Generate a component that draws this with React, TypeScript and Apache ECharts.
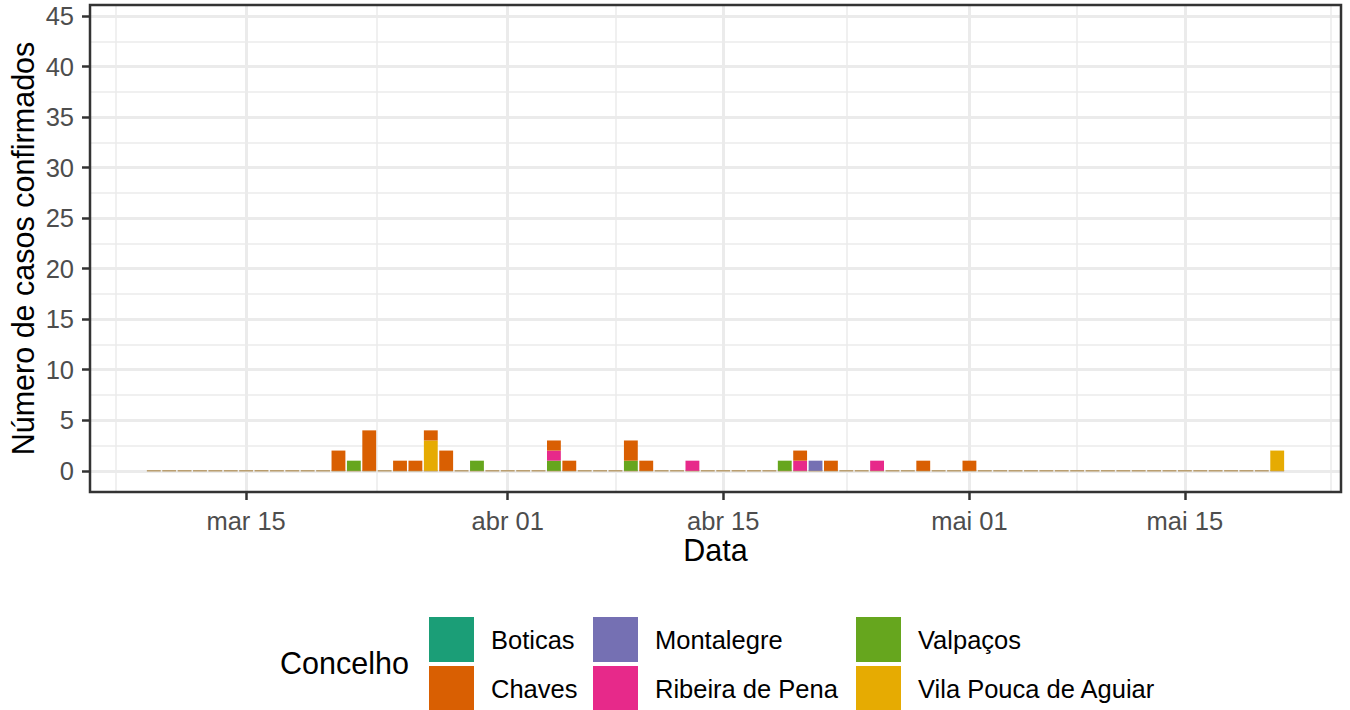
import React, { useEffect, useRef } from "react";
import * as echarts from "echarts";

// ---- data ----
const counties = ["Boticas", "Chaves", "Montalegre", "Ribeira de Pena", "Valpaços", "Vila Pouca de Aguiar"];
const countyColors = ["#1B9E77", "#D95F02", "#7570B3", "#E7298A", "#66A61E", "#E6AB02"];

const dates = [
  "2020-03-21", "2020-03-22", "2020-03-23", "2020-03-25", "2020-03-26", "2020-03-27", "2020-03-28",
  "2020-03-30", "2020-04-04", "2020-04-05", "2020-04-09", "2020-04-10", "2020-04-13", "2020-04-19",
  "2020-04-20", "2020-04-21", "2020-04-22", "2020-04-25", "2020-04-28", "2020-05-01", "2020-05-21",
];
const boticas = [0, 0, 0, 0, 0, 0, 0, 0, 0, 0, 0, 0, 0, 0, 0, 0, 0, 0, 0, 0, 0];
const chaves = [2, 0, 4, 1, 1, 1, 2, 0, 1, 1, 2, 1, 0, 0, 1, 0, 1, 0, 1, 1, 0];
const montalegre = [0, 0, 0, 0, 0, 0, 0, 0, 0, 0, 0, 0, 0, 0, 0, 1, 0, 0, 0, 0, 0];
const ribeiraDePena = [0, 0, 0, 0, 0, 0, 0, 0, 1, 0, 0, 0, 1, 0, 1, 0, 0, 1, 0, 0, 0];
const valpacos = [0, 1, 0, 0, 0, 0, 0, 1, 1, 0, 1, 0, 0, 1, 0, 0, 0, 0, 0, 0, 0];
const vilaPouca = [0, 0, 0, 0, 0, 3, 0, 0, 0, 0, 0, 0, 0, 0, 0, 0, 0, 0, 0, 0, 2];
const countyValues = [boticas, chaves, montalegre, ribeiraDePena, valpacos, vilaPouca];

const firstDate = "2020-03-09";
const lastDate = "2020-05-21";

const xTickDates = ["2020-03-15", "2020-04-01", "2020-04-15", "2020-05-01", "2020-05-15"];
const xTickLabels = ["mar 15", "abr 01", "abr 15", "mai 01", "mai 15"];
const xMinorDates = ["2020-03-06T12:00:00Z", "2020-03-23T12:00:00Z", "2020-04-08T00:00:00Z", "2020-04-23T00:00:00Z", "2020-05-08T00:00:00Z", "2020-05-24T12:00:00Z"];
const yTicks = [0, 5, 10, 15, 20, 25, 30, 35, 40, 45];
const yMinor = [2.5, 7.5, 12.5, 17.5, 22.5, 27.5, 32.5, 37.5, 42.5];

// ---- helpers ----
const DAY = 86400000;
const ts = (s: string) => Date.parse(s.length === 10 ? s + "T00:00:00Z" : s);

const FONT = "'Liberation Sans', Arial, Helvetica, sans-serif";
const SMALL = 25.5;
const BIG = 30.5;

export default function App() {
  const ref = useRef<HTMLDivElement>(null);

  useEffect(() => {
    if (!ref.current) return;
    const chart = echarts.init(ref.current, null, { renderer: "svg" });

    const gridLeft = 90, gridTop = 5, gridW = 1251, gridH = 487;
    const t0 = ts(firstDate), t1 = ts(lastDate);
    const lo = t0 - 0.45 * DAY, hi = t1 + 0.45 * DAY;
    const xMin = lo - (hi - lo) * 0.05;
    const xMax = hi + (hi - lo) * 0.05;
    const barW = (gridW / ((xMax - xMin) / DAY)) * 0.9;
    // ECharts widens a time axis that carries bars by the bar width; pre-shrink so the final extent is [xMin, xMax]
    const R = xMax - xMin;
    const shrink = (R - R * (1 - barW / gridW)) / 2;
    const tMin = xMin + shrink;
    const tMax = xMax - shrink;

    const xTickTs = xTickDates.map(ts);
    const dataTs = dates.map(ts);

    const allDays: number[][] = [];
    for (let t = t0; t <= t1; t += DAY) allDays.push([t, 0]);

    const stackOrder = [5, 4, 3, 2, 1, 0];
    const barSeries = stackOrder.map((i) => ({
      type: "bar",
      name: counties[i],
      stack: "total",
      barWidth: barW,
      xAxisIndex: 0,
      z: 3,
      itemStyle: { color: countyColors[i] },
      data: countyValues[i].map((v, k) => [dataTs[k], v]),
    }));

    const minorStyle = { color: "#EBEBEB", width: 1.5, type: "solid" };
    const majorStyle = { color: "#EBEBEB", width: 3, type: "solid" };
    const gridLineSeries = {
      type: "line",
      name: "__grid",
      xAxisIndex: 0,
      data: [],
      z: 0,
      silent: true,
      markLine: {
        z: 0,
        silent: true,
        symbol: "none",
        label: { show: false },
        animation: false,
        data: [
          ...xMinorDates.map((v) => ({ xAxis: ts(v), lineStyle: minorStyle })),
          ...yMinor.map((v) => ({ yAxis: v, lineStyle: minorStyle })),
          ...xTickTs.map((v) => ({ xAxis: v, lineStyle: majorStyle })),
          ...yTicks.map((v) => ({ yAxis: v, lineStyle: majorStyle })),
        ],
      },
    };

    const zeroSeries = {
      type: "custom",
      name: "__zero",
      xAxisIndex: 0,
      z: 2,
      silent: true,
      data: allDays,
      renderItem: (params: any, api: any) => {
        const t = api.value(0);
        const p0 = api.coord([t - 0.45 * DAY, 0]);
        const p1 = api.coord([t + 0.45 * DAY, 0]);
        return {
          type: "rect",
          shape: { x: p0[0], y: p0[1] - 0.75, width: p1[0] - p0[0], height: 1.5 },
          style: { fill: "#B89C6C" },
        };
      },
    };

    const legendPos = [
      [429, 617], [429, 666],
      [593, 617], [593, 666],
      [856, 617], [856, 666],
    ];
    const legends = counties.map((c, i) => ({
      orient: "vertical",
      left: legendPos[i][0],
      top: legendPos[i][1],
      itemWidth: 45,
      itemHeight: 45,
      itemGap: 4,
      padding: 0,
      icon: "rect",
      selectedMode: false,
      data: [c],
      textStyle: { fontSize: SMALL, color: "#000", fontFamily: FONT, padding: [0, 0, 0, 12] },
    }));

    chart.setOption({
      animation: false,
      backgroundColor: "#fff",
      textStyle: { fontFamily: FONT },
      grid: { left: gridLeft, top: gridTop, width: gridW, height: gridH, containLabel: false },
      xAxis: [
        {
          type: "time",
          min: tMin,
          max: tMax,
          axisLine: { show: false },
          axisTick: { show: false },
          axisLabel: { show: false },
          splitLine: { show: false },
          minorSplitLine: { show: false },
        },
        {
          type: "value",
          position: "bottom",
          min: xMin,
          max: xMax,
          axisLine: { show: false },
          splitLine: { show: false },
          axisTick: { show: true, customValues: xTickTs, length: 8, lineStyle: { color: "#333", width: 2.5 } },
          axisLabel: {
            customValues: xTickTs,
            margin: 16,
            fontSize: SMALL,
            color: "#4D4D4D",
            fontFamily: FONT,
            formatter: (v: number) => {
              const i = xTickTs.findIndex((x) => Math.abs(x - v) < DAY / 2);
              return i >= 0 ? xTickLabels[i] : "";
            },
          },
        },
      ],
      yAxis: {
        type: "value",
        min: -2.1,
        max: 46.1,
        axisLine: { show: false },
        splitLine: { show: false },
        axisTick: { show: true, customValues: yTicks, length: 8, lineStyle: { color: "#333", width: 2.5 } },
        axisLabel: { customValues: yTicks, margin: 16, fontSize: SMALL, color: "#4D4D4D", fontFamily: FONT },
      },
      legend: legends,
      graphic: [
        {
          type: "rect",
          z: 100,
          silent: true,
          shape: { x: gridLeft, y: gridTop, width: gridW, height: gridH },
          style: { fill: "none", stroke: "#333333", lineWidth: 2.5 },
        },
        {
          type: "text",
          z: 100,
          x: gridLeft + gridW / 2,
          y: 550,
          style: { text: "Data", fontSize: BIG, fill: "#000", fontFamily: FONT, textAlign: "center", textVerticalAlign: "middle" },
        },
        {
          type: "text",
          z: 100,
          x: 23,
          y: gridTop + gridH / 2,
          rotation: Math.PI / 2,
          style: {
            text: "Número de casos confirmados",
            fontSize: BIG,
            fill: "#000",
            fontFamily: FONT,
            textAlign: "center",
            textVerticalAlign: "middle",
          },
        },
        {
          type: "text",
          z: 100,
          x: 280,
          y: 663,
          style: { text: "Concelho", fontSize: BIG, fill: "#000", fontFamily: FONT, textAlign: "left", textVerticalAlign: "middle" },
        },
      ],
      series: [gridLineSeries, zeroSeries, ...barSeries],
    });

    return () => chart.dispose();
  }, []);

  return <div ref={ref} style={{ position: "fixed", left: 0, top: 0, width: 1350, height: 710 }} />;
}
